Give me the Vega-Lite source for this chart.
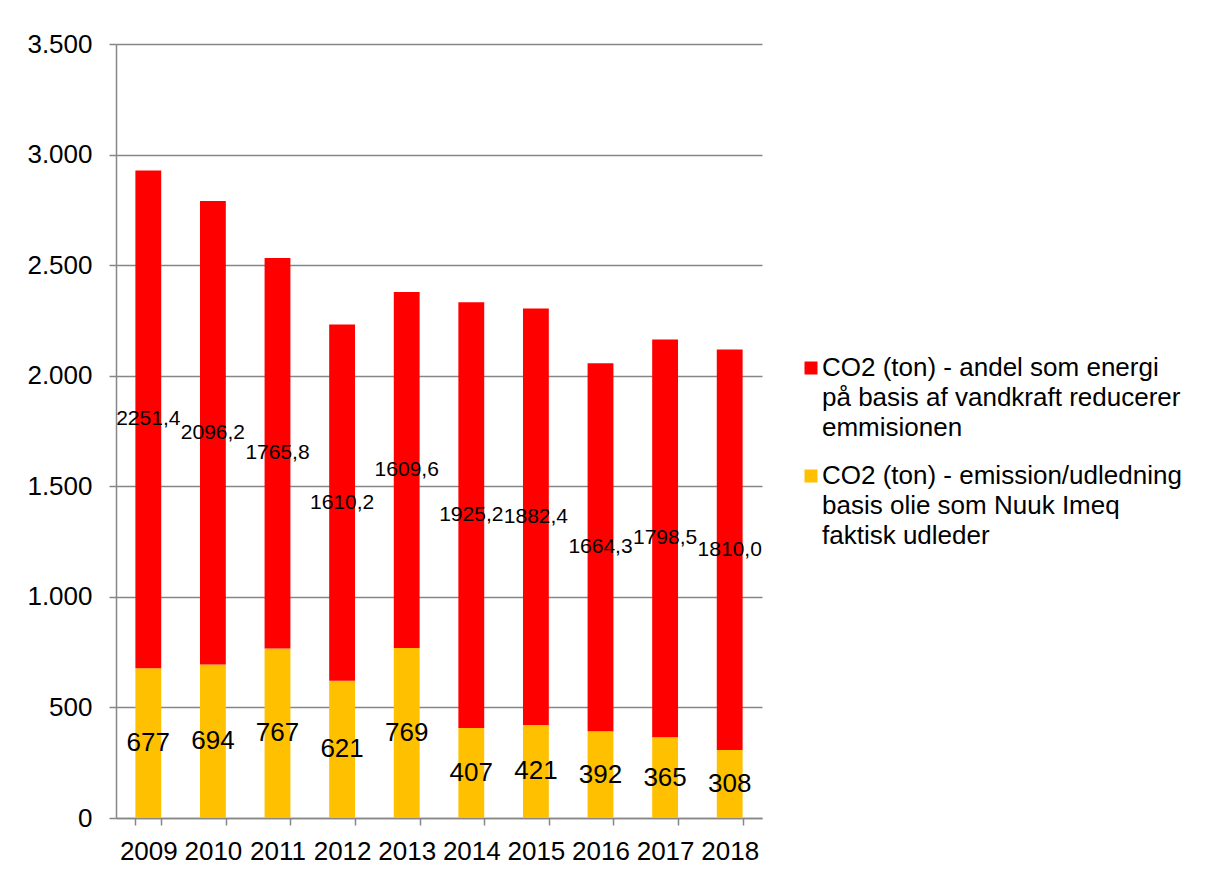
{
  "$schema": "https://vega.github.io/schema/vega-lite/v6.json",
  "width": 646,
  "height": 774,
  "autosize": {"type": "none"},
  "padding": {"left": 116, "top": 44, "right": 445, "bottom": 54},
  "background": "white",
  "config": {
    "locale": {"number": {"decimal": ",", "thousands": ".", "grouping": [3], "currency": ["", ""]}},
    "font": "Liberation Sans",
    "view": {"stroke": null},
    "style": {"guide-label": {"lineHeight": 30}}
  },
  "data": {
    "values": [
      {"year": "2009", "series": "CO2 (ton) - emission/udledning basis olie som Nuuk Imeq faktisk udleder", "value": 677},
      {"year": "2010", "series": "CO2 (ton) - emission/udledning basis olie som Nuuk Imeq faktisk udleder", "value": 694},
      {"year": "2011", "series": "CO2 (ton) - emission/udledning basis olie som Nuuk Imeq faktisk udleder", "value": 767},
      {"year": "2012", "series": "CO2 (ton) - emission/udledning basis olie som Nuuk Imeq faktisk udleder", "value": 621},
      {"year": "2013", "series": "CO2 (ton) - emission/udledning basis olie som Nuuk Imeq faktisk udleder", "value": 769},
      {"year": "2014", "series": "CO2 (ton) - emission/udledning basis olie som Nuuk Imeq faktisk udleder", "value": 407},
      {"year": "2015", "series": "CO2 (ton) - emission/udledning basis olie som Nuuk Imeq faktisk udleder", "value": 421},
      {"year": "2016", "series": "CO2 (ton) - emission/udledning basis olie som Nuuk Imeq faktisk udleder", "value": 392},
      {"year": "2017", "series": "CO2 (ton) - emission/udledning basis olie som Nuuk Imeq faktisk udleder", "value": 365},
      {"year": "2018", "series": "CO2 (ton) - emission/udledning basis olie som Nuuk Imeq faktisk udleder", "value": 308},
      {"year": "2009", "series": "CO2 (ton) - andel som energi på basis af vandkraft reducerer emmisionen", "value": 2251.4},
      {"year": "2010", "series": "CO2 (ton) - andel som energi på basis af vandkraft reducerer emmisionen", "value": 2096.2},
      {"year": "2011", "series": "CO2 (ton) - andel som energi på basis af vandkraft reducerer emmisionen", "value": 1765.8},
      {"year": "2012", "series": "CO2 (ton) - andel som energi på basis af vandkraft reducerer emmisionen", "value": 1610.2},
      {"year": "2013", "series": "CO2 (ton) - andel som energi på basis af vandkraft reducerer emmisionen", "value": 1609.6},
      {"year": "2014", "series": "CO2 (ton) - andel som energi på basis af vandkraft reducerer emmisionen", "value": 1925.2},
      {"year": "2015", "series": "CO2 (ton) - andel som energi på basis af vandkraft reducerer emmisionen", "value": 1882.4},
      {"year": "2016", "series": "CO2 (ton) - andel som energi på basis af vandkraft reducerer emmisionen", "value": 1664.3},
      {"year": "2017", "series": "CO2 (ton) - andel som energi på basis af vandkraft reducerer emmisionen", "value": 1798.5},
      {"year": "2018", "series": "CO2 (ton) - andel som energi på basis af vandkraft reducerer emmisionen", "value": 1810.0}
    ]
  },
  "transform": [
    {"stack": "value", "groupby": ["year"], "sort": [{"field": "series", "order": "descending"}], "as": ["v0", "v1"]},
    {"calculate": "(datum.v0 + datum.v1) / 2", "as": "mid"}
  ],
  "encoding": {
    "x": {
      "field": "year",
      "type": "ordinal",
      "scale": {"paddingInner": 0.6, "paddingOuter": 0.3},
      "axis": {
        "title": null,
        "labelAngle": 0,
        "labelFontSize": 26,
        "labelColor": "black",
        "labelPadding": 13,
        "tickBand": "extent",
        "tickSize": 7,
        "tickColor": "#868686",
        "tickWidth": 1.5,
        "domainColor": "#868686",
        "domainWidth": 1.5,
        "grid": false
      }
    }
  },
  "layer": [
    {
      "mark": {"type": "bar"},
      "encoding": {
        "y": {
          "field": "v0",
          "type": "quantitative",
          "scale": {"domain": [0, 3500], "nice": false},
          "axis": {
            "title": null,
            "values": [0, 500, 1000, 1500, 2000, 2500, 3000, 3500],
            "format": ",d",
            "labelFontSize": 26,
            "labelColor": "black",
            "labelPadding": 17,
            "tickSize": 7,
            "tickColor": "#868686",
            "tickWidth": 1.5,
            "domainColor": "#868686",
            "domainWidth": 1.5,
            "gridColor": "#868686",
            "gridWidth": 1.5
          }
        },
        "y2": {"field": "v1"},
        "color": {
          "field": "series",
          "type": "nominal",
          "scale": {
            "domain": [
              "CO2 (ton) - andel som energi på basis af vandkraft reducerer emmisionen",
              "CO2 (ton) - emission/udledning basis olie som Nuuk Imeq faktisk udleder"
            ],
            "range": ["#FF0000", "#FFC000"]
          },
          "legend": {
            "orient": "none",
            "legendX": 682,
            "legendY": 311,
            "title": null,
            "padding": 0,
            "symbolType": "square",
            "symbolSize": 169,
            "symbolStrokeWidth": 0,
            "labelFontSize": 26,
            "labelColor": "black",
            "labelOffset": -2,
            "labelLimit": 500,
            "rowPadding": 22,
            "labelExpr": "indexof(datum.label, 'andel') >= 0 ? ['CO2 (ton) - andel som energi', 'på basis af vandkraft reducerer', 'emmisionen'] : ['CO2 (ton) - emission/udledning', 'basis olie som Nuuk Imeq', 'faktisk udleder']"
          }
        }
      }
    },
    {
      "transform": [{"filter": "indexof(datum.series, 'emission/') >= 0"}],
      "mark": {"type": "text", "fontSize": 26, "color": "black", "baseline": "middle"},
      "encoding": {
        "y": {"field": "mid", "type": "quantitative"},
        "text": {"field": "value", "type": "quantitative", "format": ".0f"}
      }
    },
    {
      "transform": [{"filter": "indexof(datum.series, 'andel') >= 0"}],
      "mark": {"type": "text", "fontSize": 21, "color": "black", "baseline": "middle"},
      "encoding": {
        "y": {"field": "mid", "type": "quantitative"},
        "text": {"field": "value", "type": "quantitative", "format": ".1f"}
      }
    }
  ]
}
